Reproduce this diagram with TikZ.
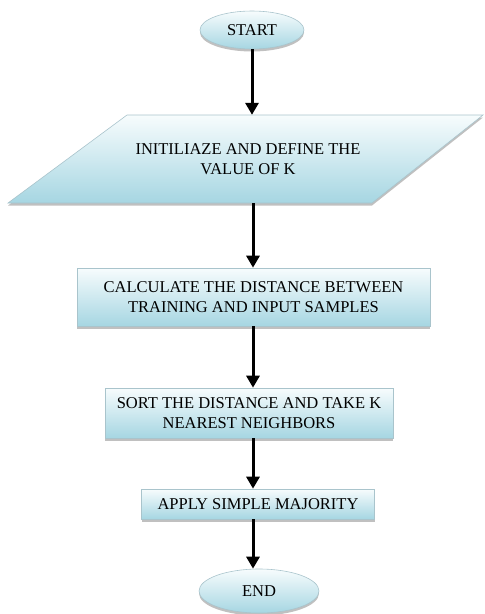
\documentclass[tikz,border=0pt]{standalone}
\usepackage{fontspec}
\setmainfont{Liberation Serif}
\usetikzlibrary{shapes.geometric,arrows.meta,shadows}
\definecolor{edgec}{HTML}{A9C4CC}
\definecolor{topc}{HTML}{F7FCFD}
\definecolor{botc}{HTML}{A6D6E2}
\begin{document}
\begin{tikzpicture}[x=1pt,y=-1pt,
  shapebox/.style={draw=edgec, line width=0.6pt, top color=topc, bottom color=botc,
    drop shadow={shadow xshift=0pt, shadow yshift=-2.5pt, fill=black!55, opacity=.45}},
  txt/.style={font=\fontsize{16.5}{20.5}\selectfont, align=center, inner sep=0pt},
  procbox/.style={rectangle, shapebox, txt},
  termbox/.style={ellipse, shapebox, txt},
  arr/.style={line width=3pt, -{Triangle[length=12pt,width=13pt]}}]
\useasboundingbox (0,0) rectangle (485,614);

% start
\node[termbox, minimum width=104pt, minimum height=38pt] (start) at (252,30) {START};

% input parallelogram
\path[shapebox] (8,203) -- (127,115) -- (483,115) -- (372,203) -- cycle;
\node[txt, minimum height=88pt] (init) at (248,159) {INITILIAZE AND DEFINE THE\\VALUE OF K};

% process boxes
\node[procbox, minimum width=353pt, minimum height=58pt] (calc) at (253.5,297)
  {CALCULATE THE DISTANCE BETWEEN\\TRAINING AND INPUT SAMPLES};
\node[procbox, minimum width=288pt, minimum height=50pt] (sort) at (249,413)
  {SORT THE DISTANCE AND TAKE K\\NEAREST NEIGHBORS};
\node[procbox, minimum width=233pt, minimum height=30pt] (maj) at (258,504)
  {APPLY SIMPLE MAJORITY};

% end
\node[termbox, minimum width=120pt, minimum height=44pt] (end) at (259,591) {END};

% connectors
\draw[arr] (start.south) -- (start.south |- init.north);
\draw[arr] ([xshift=1pt]init.south -| start.south) -- ([xshift=1pt]start.south |- calc.north);
\draw[arr] ([xshift=1pt]start.south |- calc.south) -- ([xshift=1pt]start.south |- sort.north);
\draw[arr] ([xshift=1pt]start.south |- sort.south) -- ([xshift=1pt]start.south |- maj.north);
\draw[arr] ([xshift=1pt]start.south |- maj.south) -- ([xshift=1pt]start.south |- end.north);
\end{tikzpicture}
\end{document}
